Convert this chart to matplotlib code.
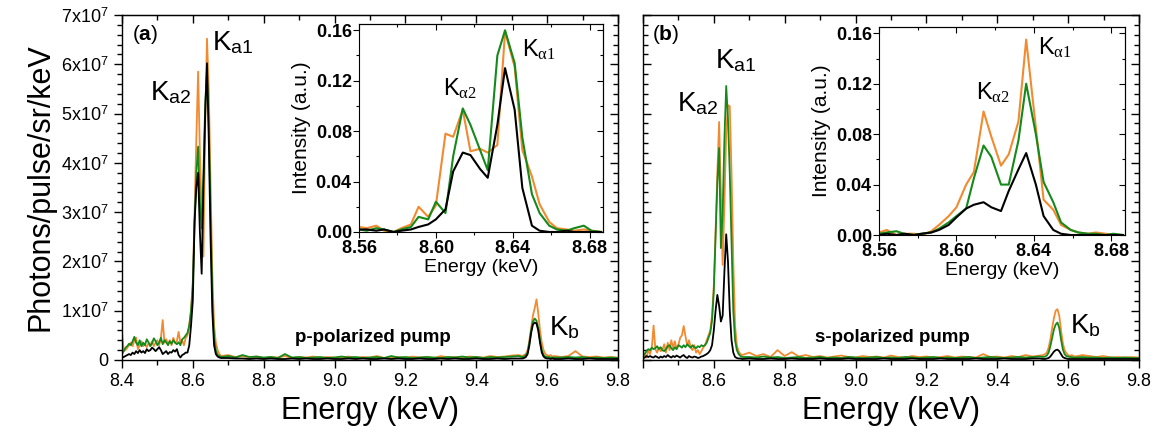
import numpy as np
import matplotlib
matplotlib.use('Agg')
import matplotlib.pyplot as plt
from matplotlib.ticker import MultipleLocator, FuncFormatter

plt.rcParams['font.family'] = ['Liberation Sans', 'DejaVu Sans']
plt.rcParams['mathtext.fontset'] = 'custom'
plt.rcParams['mathtext.rm'] = 'Liberation Serif'
plt.rcParams['mathtext.it'] = 'Liberation Serif:italic'
plt.rcParams['mathtext.bf'] = 'Liberation Sans:bold'
plt.rcParams['mathtext.sf'] = 'Liberation Sans'

ORANGE = '#f28a30'
GREEN = '#15891a'
BLACK = '#000000'

# sampling grid of the spectra (keV): fine near the lines, coarse on the flat part
E_LOW = np.round(np.arange(8.400, 8.5801, 0.005), 3)    # 37
E_PEAK = np.round(np.arange(8.585, 8.6801, 0.005), 3)   # 20
E_FLAT = np.round(np.arange(8.70, 9.5201, 0.02), 2)     # 42
E_KB = np.round(np.arange(9.530, 9.6201, 0.005), 3)     # 19
E_TAIL = np.round(np.arange(9.64, 9.8001, 0.02), 2)     # 9
energy = np.concatenate([E_LOW, E_PEAK, E_FLAT, E_KB, E_TAIL])

# photons/pulse/sr/keV in units of 1e7
a_orange = (
    [0.57, 0.18, 0.20, 0.25, 0.30, 0.35, 0.28, 0.40, 0.45, 0.22,
     0.30, 0.38, 0.28, 0.32, 0.26, 0.34, 0.30, 0.38, 0.28, 0.35,
     0.40, 0.30, 0.45, 0.81, 0.35, 0.42, 0.32, 0.40, 0.30, 0.45,
     0.35, 0.38, 0.57, 0.35, 0.40, 0.30, 0.45]
    + [0.50, 0.70, 1.00, 1.60, 3.00, 4.50, 5.85, 4.20, 3.00, 2.10,
       4.80, 6.52, 5.50, 3.60, 1.80, 0.70, 0.35, 0.20, 0.12, 0.08]
    + [0.10, 0.06, 0.08, 0.05, 0.07, 0.04, 0.06, 0.05, 0.08, 0.04,
       0.06, 0.05, 0.07, 0.04, 0.06, 0.05, 0.05, 0.07, 0.04, 0.06,
       0.05, 0.08, 0.04, 0.05, 0.06, 0.04, 0.07, 0.05, 0.06, 0.04,
       0.08, 0.05, 0.06, 0.04, 0.07, 0.06, 0.05, 0.08, 0.06, 0.07,
       0.09, 0.10]
    + [0.08, 0.10, 0.12, 0.20, 0.40, 0.65, 0.90, 1.05, 1.23, 0.95,
       0.60, 0.35, 0.20, 0.12, 0.10, 0.08, 0.10, 0.07, 0.08]
    + [0.06, 0.08, 0.18, 0.07, 0.06, 0.07, 0.05, 0.06, 0.05]
)
a_green = (
    [0.12, 0.18, 0.25, 0.28, 0.33, 0.30, 0.38, 0.47, 0.35, 0.30,
     0.40, 0.28, 0.35, 0.30, 0.42, 0.36, 0.28, 0.34, 0.44, 0.38,
     0.30, 0.35, 0.45, 0.32, 0.40, 0.36, 0.30, 0.38, 0.33, 0.40,
     0.35, 0.32, 0.36, 0.30, 0.42, 0.45, 0.50]
    + [0.55, 0.70, 1.00, 1.50, 2.80, 3.80, 4.33, 3.20, 2.67, 3.80,
       5.20, 5.85, 4.80, 3.00, 1.30, 0.45, 0.20, 0.10, 0.08, 0.06]
    + [0.08, 0.05, 0.10, 0.06, 0.07, 0.05, 0.06, 0.04, 0.12, 0.05,
       0.06, 0.04, 0.05, 0.06, 0.04, 0.05, 0.07, 0.05, 0.06, 0.04,
       0.05, 0.06, 0.04, 0.08, 0.05, 0.06, 0.04, 0.05, 0.06, 0.05,
       0.04, 0.06, 0.05, 0.07, 0.05, 0.06, 0.04, 0.06, 0.05, 0.06,
       0.07, 0.08]
    + [0.06, 0.07, 0.10, 0.15, 0.35, 0.60, 0.78, 0.84, 0.80, 0.65,
       0.40, 0.20, 0.10, 0.07, 0.06, 0.06, 0.05, 0.05, 0.05]
    + [0.05, 0.06, 0.05, 0.06, 0.04, 0.05, 0.04, 0.05, 0.04]
)
a_black = (
    [0.05, 0.06, 0.08, 0.10, 0.12, 0.10, 0.15, 0.12, 0.18, 0.14,
     0.20, 0.15, 0.18, 0.14, 0.22, 0.18, 0.20, 0.25, 0.22, 0.18,
     0.22, 0.26, 0.20, 0.12, 0.15, 0.18, 0.12, 0.16, 0.15, 0.20,
     0.17, 0.22, 0.10, 0.05, 0.10, 0.12, 0.15]
    + [0.15, 0.30, 0.70, 1.20, 2.80, 3.50, 3.80, 2.60, 1.75, 3.50,
       5.00, 6.02, 4.50, 2.50, 1.00, 0.30, 0.12, 0.07, 0.05, 0.04]
    + [0.04, 0.03, 0.03, 0.02, 0.03, 0.02, 0.03, 0.02, 0.02, 0.03,
       0.02, 0.03, 0.02, 0.02, 0.03, 0.02, 0.02, 0.03, 0.02, 0.03,
       0.02, 0.02, 0.03, 0.02, 0.03, 0.02, 0.02, 0.03, 0.02, 0.02,
       0.03, 0.02, 0.03, 0.02, 0.02, 0.03, 0.02, 0.02, 0.03, 0.02,
       0.03, 0.03]
    + [0.03, 0.04, 0.06, 0.12, 0.30, 0.55, 0.72, 0.76, 0.74, 0.60,
       0.35, 0.15, 0.07, 0.04, 0.03, 0.03, 0.02, 0.03, 0.02]
    + [0.02, 0.03, 0.02, 0.02, 0.03, 0.02, 0.02, 0.02, 0.02]
)

b_orange = (
    [0.15, 0.10, 0.05, 0.20, 0.12, 0.25, 0.70, 0.22, 0.15, 0.25,
     0.18, 0.20, 0.32, 0.15, 0.35, 0.20, 0.40, 0.25, 0.38, 0.22,
     0.30, 0.45, 0.50, 0.69, 0.48, 0.30, 0.40, 0.25, 0.20, 0.30,
     0.15, 0.20, 0.12, 0.18, 0.25, 0.30, 0.40]
    + [0.50, 0.60, 0.90, 1.50, 2.60, 3.80, 4.83, 3.40, 1.93, 3.20,
       4.60, 5.17, 5.15, 3.80, 2.00, 0.70, 0.30, 0.18, 0.12, 0.10]
    + [0.15, 0.08, 0.12, 0.06, 0.20, 0.08, 0.16, 0.07, 0.10, 0.06,
       0.08, 0.05, 0.07, 0.09, 0.06, 0.05, 0.08, 0.06, 0.07, 0.05,
       0.09, 0.06, 0.05, 0.08, 0.06, 0.07, 0.05, 0.06, 0.08, 0.05,
       0.07, 0.06, 0.05, 0.12, 0.06, 0.07, 0.05, 0.08, 0.06, 0.10,
       0.07, 0.09]
    + [0.10, 0.12, 0.15, 0.25, 0.42, 0.65, 0.85, 1.00, 1.03, 0.90,
       0.60, 0.35, 0.20, 0.14, 0.10, 0.08, 0.10, 0.08, 0.07]
    + [0.10, 0.08, 0.06, 0.08, 0.05, 0.06, 0.05, 0.06, 0.05]
)
b_green = (
    [0.08, 0.12, 0.18, 0.22, 0.20, 0.25, 0.22, 0.24, 0.28, 0.22,
     0.26, 0.20, 0.18, 0.22, 0.28, 0.30, 0.24, 0.20, 0.26, 0.22,
     0.30, 0.28, 0.25, 0.30, 0.26, 0.32, 0.28, 0.25, 0.30, 0.26,
     0.24, 0.28, 0.26, 0.30, 0.28, 0.30, 0.35]
    + [0.45, 0.55, 0.80, 1.40, 2.50, 3.60, 4.30, 2.27, 3.00, 4.50,
       5.56, 4.90, 3.80, 2.40, 1.00, 0.40, 0.20, 0.12, 0.08, 0.06]
    + [0.06, 0.05, 0.07, 0.05, 0.06, 0.04, 0.05, 0.06, 0.04, 0.05,
       0.06, 0.04, 0.05, 0.04, 0.06, 0.05, 0.04, 0.05, 0.06, 0.04,
       0.05, 0.04, 0.06, 0.05, 0.04, 0.05, 0.06, 0.04, 0.05, 0.04,
       0.05, 0.06, 0.04, 0.05, 0.06, 0.05, 0.04, 0.05, 0.06, 0.05,
       0.06, 0.07]
    + [0.06, 0.07, 0.09, 0.15, 0.28, 0.45, 0.62, 0.72, 0.76, 0.65,
       0.42, 0.22, 0.12, 0.08, 0.07, 0.06, 0.06, 0.05, 0.05]
    + [0.06, 0.05, 0.05, 0.04, 0.05, 0.04, 0.05, 0.04, 0.04]
)
b_black = (
    [0.03, 0.05, 0.08, 0.06, 0.08, 0.06, 0.05, 0.08, 0.06, 0.04,
     0.07, 0.05, 0.08, 0.06, 0.10, 0.07, 0.05, 0.08, 0.06, 0.09,
     0.07, 0.05, 0.08, 0.10, 0.06, 0.04, 0.08, 0.06, 0.05, 0.07,
     0.06, 0.04, 0.05, 0.07, 0.08, 0.10, 0.12]
    + [0.15, 0.20, 0.30, 0.60, 1.00, 1.32, 1.10, 0.78, 0.90, 1.80,
       2.55, 2.00, 1.00, 0.40, 0.15, 0.06, 0.04, 0.03, 0.03, 0.02]
    + [0.03, 0.02, 0.02, 0.03, 0.02, 0.02, 0.03, 0.02, 0.02, 0.02,
       0.03, 0.02, 0.02, 0.02, 0.03, 0.02, 0.02, 0.02, 0.02, 0.03,
       0.02, 0.02, 0.02, 0.03, 0.02, 0.02, 0.02, 0.03, 0.02, 0.02,
       0.02, 0.02, 0.03, 0.02, 0.02, 0.02, 0.03, 0.02, 0.02, 0.02,
       0.03, 0.03]
    + [0.02, 0.02, 0.03, 0.04, 0.07, 0.12, 0.17, 0.20, 0.21, 0.18,
       0.12, 0.06, 0.04, 0.03, 0.02, 0.02, 0.02, 0.02, 0.02]
    + [0.02, 0.02, 0.02, 0.02, 0.02, 0.02, 0.02, 0.02, 0.02]
)

# insets: normalised intensity around the K-alpha doublet
e_inset = [8.560, 8.564, 8.569, 8.573, 8.578, 8.582, 8.587, 8.591, 8.596, 8.600,
           8.605, 8.609, 8.614, 8.618, 8.623, 8.627, 8.632, 8.636, 8.641, 8.645,
           8.650, 8.654, 8.659, 8.663, 8.668, 8.672, 8.677, 8.681, 8.686]
ia_orange = [0.004, 0.003, 0.005, 0.001, 0.000, 0.003, 0.006, 0.020, 0.012, 0.021,
             0.078, 0.0755, 0.097, 0.064, 0.066, 0.063, 0.069, 0.159, 0.131, 0.065,
             0.044, 0.022, 0.008, 0.003, 0.002, 0.001, 0.002, 0.001, 0.000]
ia_green = [0.002, 0.001, 0.003, 0.002, 0.000, 0.002, 0.004, 0.012, 0.010, 0.024,
            0.015, 0.060, 0.098, 0.085, 0.065, 0.049, 0.140, 0.160, 0.134, 0.075,
            0.030, 0.015, 0.005, 0.002, 0.001, 0.003, 0.005, 0.001, 0.000]
ia_black = [0.002, 0.002, 0.001, 0.002, 0.000, 0.001, 0.002, 0.004, 0.006, 0.010,
            0.018, 0.048, 0.063, 0.061, 0.050, 0.043, 0.085, 0.130, 0.097, 0.035,
            0.005, 0.001, 0.000, 0.000, 0.001, 0.000, 0.000, 0.000, 0.000]
ib_orange = [0.002, 0.004, 0.000, 0.001, 0.001, 0.000, 0.003, 0.008, 0.015, 0.022,
             0.040, 0.050, 0.098, 0.078, 0.055, 0.064, 0.090, 0.155, 0.085, 0.028,
             0.020, 0.008, 0.004, 0.002, 0.001, 0.002, 0.001, 0.000, 0.000]
ib_green = [0.001, 0.002, 0.003, 0.001, 0.000, 0.001, 0.002, 0.005, 0.010, 0.015,
            0.021, 0.045, 0.071, 0.062, 0.040, 0.040, 0.075, 0.120, 0.080, 0.042,
            0.026, 0.010, 0.004, 0.002, 0.001, 0.001, 0.000, 0.001, 0.000]
ib_black = [0.000, 0.001, 0.000, 0.001, 0.000, 0.001, 0.002, 0.004, 0.008, 0.014,
            0.021, 0.024, 0.026, 0.022, 0.019, 0.035, 0.052, 0.065, 0.040, 0.015,
            0.004, 0.001, 0.000, 0.000, 0.000, 0.000, 0.000, 0.000, 0.000]


def mirror_ticks(ax, xmaj, xmin, ymaj, ymin, major_len, minor_len, width):
    # Origin-style: ticks pointing inwards on the top and right frame
    sx = ax.secondary_xaxis('top')
    sx.xaxis.set_major_locator(MultipleLocator(xmaj))
    sx.xaxis.set_minor_locator(MultipleLocator(xmin))
    sx.tick_params(which='both', direction='in', labeltop=False, width=width)
    sx.tick_params(which='major', length=major_len)
    sx.tick_params(which='minor', length=minor_len)
    sy = ax.secondary_yaxis('right')
    sy.yaxis.set_major_locator(MultipleLocator(ymaj))
    sy.yaxis.set_minor_locator(MultipleLocator(ymin))
    sy.tick_params(which='both', direction='in', labelright=False, width=width)
    sy.tick_params(which='major', length=major_len)
    sy.tick_params(which='minor', length=minor_len)


def main_panel(ax, series, show_ylabels):
    for ys, c in zip(series, [ORANGE, GREEN, BLACK]):
        ax.plot(energy, ys, color=c, lw=1.3)
    ax.set_xlim(8.4, 9.8)
    ax.set_ylim(0, 7)
    ax.xaxis.set_major_locator(MultipleLocator(0.2))
    ax.xaxis.set_minor_locator(MultipleLocator(0.1))
    ax.yaxis.set_major_locator(MultipleLocator(1))
    ax.yaxis.set_minor_locator(MultipleLocator(0.2))
    ax.tick_params(axis='x', which='both', direction='out', labelsize=13)
    ax.tick_params(axis='y', which='both', direction='out' if show_ylabels else 'in',
                   labelsize=13)
    ax.tick_params(which='major', length=6, width=1)
    ax.tick_params(which='minor', length=3.5, width=1)
    ax.xaxis.set_major_formatter(FuncFormatter(
        lambda v, p: '' if (not show_ylabels and abs(v - 8.4) < 1e-6) else '%.1f' % v))
    if show_ylabels:
        ax.yaxis.set_major_formatter(FuncFormatter(
            lambda v, p: '0' if abs(v) < 1e-6 else r'%dx10$^{\mathsf{7}}$' % round(v)))
    else:
        ax.yaxis.set_major_formatter(FuncFormatter(lambda v, p: ''))
    for s in ax.spines.values():
        s.set_linewidth(1.0)
    mirror_ticks(ax, 0.2, 0.1, 1, 0.2, 6, 3.5, 1)
    ax.set_xlabel('Energy (keV)', fontsize=22, labelpad=4)


def inset_panel(ax, series):
    for ys, c in zip(series, [ORANGE, GREEN, BLACK]):
        ax.plot(e_inset, ys, color=c, lw=1.5)
    ax.set_xlim(8.56, 8.687)
    ax.set_ylim(0, 0.165)
    ax.xaxis.set_major_locator(MultipleLocator(0.04))
    ax.xaxis.set_minor_locator(MultipleLocator(0.02))
    ax.yaxis.set_major_locator(MultipleLocator(0.04))
    ax.yaxis.set_minor_locator(MultipleLocator(0.02))
    bold = FuncFormatter(lambda v, p: r'$\mathbf{%.2f}$' % v)
    ax.xaxis.set_major_formatter(bold)
    ax.yaxis.set_major_formatter(bold)
    ax.tick_params(which='both', direction='out', labelsize=13, width=0.8)
    ax.tick_params(which='major', length=4)
    ax.tick_params(which='minor', length=2.5)
    ax.tick_params(axis='x', pad=2)
    ax.tick_params(axis='y', pad=1)
    for s in ax.spines.values():
        s.set_linewidth(0.8)
    mirror_ticks(ax, 0.04, 0.02, 0.04, 0.02, 4, 2.5, 0.8)
    ax.set_xlabel('Energy (keV)', fontsize=14, labelpad=1)
    ax.set_ylabel('Intensity (a.u.)', fontsize=15, labelpad=3)


fig = plt.figure(figsize=(11.57, 4.32), dpi=100)
ax_a = fig.add_axes([0.1054, 0.1667, 0.4287, 0.7986])
ax_b = fig.add_axes([0.5557, 0.1667, 0.4287, 0.7986])
in_a = fig.add_axes([0.3103, 0.463, 0.2109, 0.4815])
in_b = fig.add_axes([0.7597, 0.456, 0.2126, 0.4815])

main_panel(ax_a, [a_orange, a_green, a_black], True)
main_panel(ax_b, [b_orange, b_green, b_black], False)
ax_a.set_ylabel('Photons/pulse/sr/keV', fontsize=22, labelpad=4)
inset_panel(in_a, [ia_orange, ia_green, ia_black])
inset_panel(in_b, [ib_orange, ib_green, ib_black])

# annotations
ax_a.text(8.428, 6.61, r'($\mathbf{a}$)', fontsize=15, va='center')
ax_b.text(8.425, 6.61, r'($\mathbf{b}$)', fontsize=15, va='center')
ax_a.text(8.479, 5.27, r'K$_{\mathsf{a2}}$', fontsize=20, va='baseline')
ax_a.text(8.653, 6.29, r'K$_{\mathsf{a1}}$', fontsize=20, va='baseline')
ax_a.text(9.605, 0.50, r'K$_{\mathsf{b}}$', fontsize=20, va='baseline')
ax_b.text(8.495, 5.04, r'K$_{\mathsf{a2}}$', fontsize=20, va='baseline')
ax_b.text(8.603, 5.92, r'K$_{\mathsf{a1}}$', fontsize=20, va='baseline')
ax_b.text(9.605, 0.55, r'K$_{\mathsf{b}}$', fontsize=20, va='baseline')
ax_a.text(9.108, 0.45, 'p-polarized pump', fontsize=13.5, fontweight='bold',
          ha='center', va='center')
ax_b.text(9.103, 0.45, 's-polarized pump', fontsize=13.5, fontweight='bold',
          ha='center', va='center')
in_a.text(8.6036, 0.1085, r'K$_{\mathrm{\alpha 2}}$', fontsize=17, va='baseline')
in_a.text(8.645, 0.139, r'K$_{\mathrm{\alpha 1}}$', fontsize=17, va='baseline')
in_b.text(8.610, 0.107, r'K$_{\mathrm{\alpha 2}}$', fontsize=17, va='baseline')
in_b.text(8.642, 0.143, r'K$_{\mathrm{\alpha 1}}$', fontsize=17, va='baseline')

fig.savefig('out.png', dpi=100)
